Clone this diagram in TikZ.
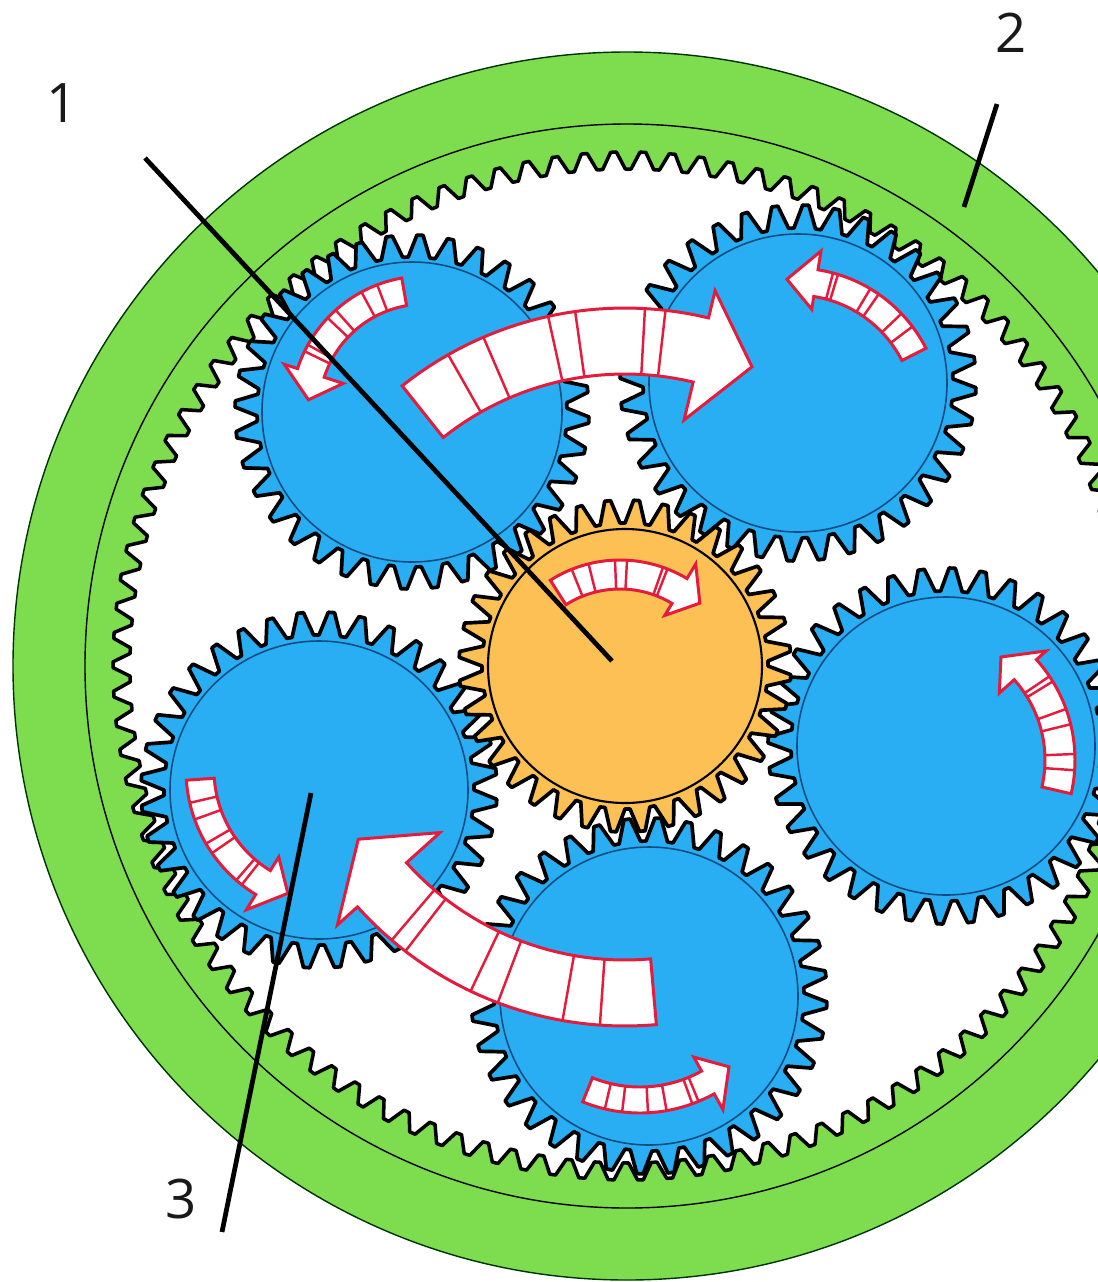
\documentclass[tikz,border=0pt]{standalone}
\usepackage{fontspec}
\setmainfont{Open Sans}
\usepackage{tikz}
\usepackage{xcolor}
\definecolor{ringgreen}{HTML}{7EDD4F}
\definecolor{planetblue}{HTML}{29AEF3}
\definecolor{sunorange}{HTML}{FDC054}
\definecolor{flowred}{HTML}{E31B3C}
\definecolor{pitchnavy}{HTML}{0F4C81}
\tikzset{
    ringbody/.style={draw=black!80!green, line width=0.8pt, fill=ringgreen},
    ringline/.style={draw=black, line width=0.8pt},
    ringteeth/.style={draw=black, line width=2pt, line join=round, fill=white},
    planetteeth/.style={draw=black, line width=2.1pt, line join=round, fill=planetblue},
    planetpitch/.style={draw=pitchnavy, line width=0.9pt},
    sunteeth/.style={draw=black, line width=2.1pt, line join=round, fill=sunorange},
    sunpitch/.style={draw=black, line width=1.2pt},
    flowarrow/.style={draw=flowred, line width=1.7pt, fill=white, line join=miter},
    flowrule/.style={draw=flowred, line width=1.4pt},
    leaderline/.style={draw=black, line width=2.7pt},
    partlabel/.style={font=\fontsize{31}{31}\selectfont, inner sep=0pt, text=black!90}
}
% cx, cy, number of teeth, phase, root radius, tip radius, teeth style
\newcommand{\geardraw}[7]{
    \begin{scope}[shift={(#1,#2)},yscale=-1]
        \draw[#7] ({#4-0.4/#3*360}:#5) \foreach \k in {1,...,#3}{
            -- ({#4+(\k-1-0.4)/#3*360}:#5)
            -- ({#4+(\k-1-0.1)/#3*360}:#6)
            -- ({#4+(\k-1+0.1)/#3*360}:#6)
            -- ({#4+(\k-1+0.4)/#3*360}:#5)
        } -- cycle;
    \end{scope}
}
% cx, cy, inner r, outer r, tail angle, head angle, wing in/wing out/tip r/tip angle, rules
\newcommand{\flowdraw}[8]{
    \begin{scope}[shift={(#1,#2)},yscale=-1]
        \foreach \wi/\wo/\tr/\ta in {#7}{
            \draw[flowarrow] plot[domain=#5:#6,samples=30,variable=\t] (\t:#4)
                -- (#6:\wo) -- (\ta:\tr) -- (#6:\wi)
                -- plot[domain=#6:#5,samples=30,variable=\t] (\t:#3) -- cycle;
        }
        \foreach \d in {#8}{
            \draw[flowrule] (\d:#3) -- (\d:#4);
        }
    \end{scope}
}
\begin{document}
\begin{tikzpicture}[x=0.02cm,y=-0.02cm]
    \useasboundingbox (0,0) rectangle (1098,1282);
    \clip (0,0) rectangle (1098,1282);

    % ring gear
    \draw[ringbody] (627,666) circle [radius=614];
    \draw[ringline] (627,666) circle [radius=542];
    \geardraw{627}{666}{110}{91.5}{497}{514}{ringteeth}

    % planets
    \geardraw{412}{412}{36}{87.4}{155}{177}{planetteeth}
    \geardraw{798}{383}{36}{87.5}{155}{178}{planetteeth}
    \geardraw{946}{746}{36}{88}{155}{178}{planetteeth}
    \geardraw{649}{996}{36}{87.1}{155}{178}{planetteeth}
    \geardraw{319}{790}{36}{86}{155}{178}{planetteeth}
    \draw[planetpitch] (412,412) circle [radius=150];
    \draw[planetpitch] (798,383) circle [radius=149];
    \draw[planetpitch] (946,746) circle [radius=149];
    \draw[planetpitch] (649,996) circle [radius=149];
    \draw[planetpitch] (319,790) circle [radius=149];

    % sun
    \geardraw{625}{666}{36}{86}{143}{166}{sunteeth}
    \draw[sunpitch] (625,666) circle [radius=137];

    % small arrows
    \flowdraw{620}{690}{101}{130}{122.4}{59}{87/147/118/47.4}{111.8,104,92.2,86.9,70.7,68.6}
    \flowdraw{425}{410}{106}{134}{100}{162}{86/148/117/175}{110.9,118.3,131.8,136.6,150.9,154}
    \flowdraw{795}{415}{120}{147}{27}{81}{107/166/136/93.4}{75,73,59.2,55.3,43.6,37}
    \flowdraw{925}{760}{120}{150}{-13}{42}{100/163/128/53.6}{33.9,31.6,19.9,13.8,2.3,-3.9}
    \flowdraw{332}{770}{118}{146}{184}{238.5}{102/164/131/250.3}{193,199.8,210.3,214.7,229,231.8}
    \flowdraw{640}{960}{127}{153}{248}{299}{111/171/139/309.8}{256.7,263.3,273,280,290,292.5}

    % large arrows
    \flowdraw{625}{666}{292}{358}{128.5}{76.5}{253/386/325/67}{119.6,113.3,102.4,98,86.8,83.5}
    \flowdraw{625}{666}{294}{360}{275}{222}{249/387/318/213}{229.6,232.4,244.6,249.3,260,266}

    % leaders
    \coordinate (onestart) at (145,158);
    \coordinate (oneend) at (612,661);
    \coordinate (twostart) at (997,104);
    \coordinate (twoend) at (964,207);
    \coordinate (threestart) at (222,1232);
    \coordinate (threeend) at (311,793);
    \draw[leaderline] (onestart) -- (oneend);
    \draw[leaderline] (twostart) -- (twoend);
    \draw[leaderline] (threestart) -- (threeend);

    \node[partlabel] (labelone) at (62,103) {1};
    \node[partlabel] (labeltwo) at (1011,33) {2};
    \node[partlabel] (labelthree) at (181,1199) {3};
\end{tikzpicture}
\end{document}
